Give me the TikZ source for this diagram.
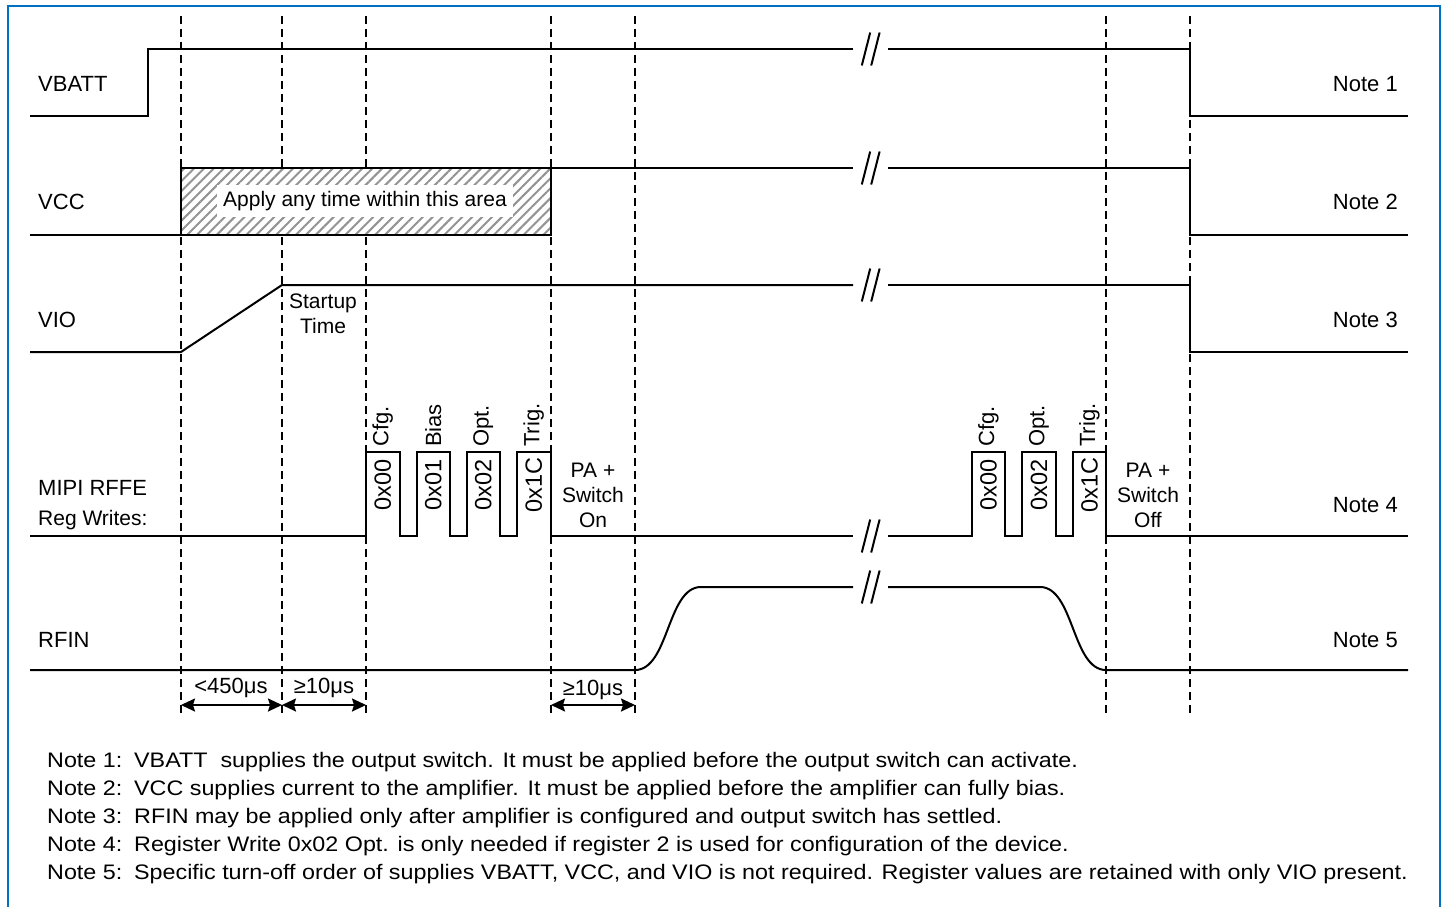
\documentclass[tikz,border=0pt]{standalone}
\usepackage{fontspec}
\setmainfont{Liberation Sans}
\newfontfamily\notefont[FakeStretch=1.11]{Liberation Sans}
\usetikzlibrary{patterns.meta,arrows.meta}
\definecolor{frameblue}{RGB}{0,112,192}
\newcommand\sigbreak[1]{%
  \draw[sig] (861.8,#1+16.5) -- (870.2,#1-16.5);
  \draw[sig] (871.2,#1+16.5) -- (879.6,#1-16.5);}
\begin{document}
\begin{tikzpicture}[x=1pt,y=-1pt,
  sig/.style={line width=2pt, line join=miter},
  guide/.style={line width=2pt, dash pattern=on 8pt off 5pt},
  lbl/.style={font=\fontsize{22}{26}\selectfont, inner sep=0pt},
  small/.style={font=\fontsize{21}{25}\selectfont, inner sep=0pt, align=center},
  reg/.style={font=\fontsize{22}{26}\selectfont, inner sep=0pt, rotate=90},
  note/.style={font=\notefont\fontsize{21}{24}\selectfont, inner sep=0pt, anchor=base west},
  dim/.style={line width=2pt, {Stealth[length=14pt,width=13pt,inset=2pt]}-{Stealth[length=14pt,width=13pt,inset=2pt]}}
]
\useasboundingbox (0,0) rectangle (1446,907);
% frame
\draw[frameblue, line width=2.5pt] (8,910) -- (8,6) -- (1440,6) -- (1440,910);
% guide lines
\foreach \x in {181,282,366,551,635,1106,1190}
  \draw[guide] (\x,16) -- (\x,715);
% VBATT
\draw[sig] (30,116) -- (148,116) -- (148,49) -- (853,49);
\draw[sig] (888,49) -- (1190,49) -- (1190,116) -- (1408,116);
\sigbreak{49}
% VCC hatched area
\fill[white] (181,168) rectangle (551,235);
\fill[pattern={Lines[angle=45,distance=7pt,line width=2pt]}, pattern color=gray!85] (181,168) rectangle (551,235);
\draw[line width=1.5pt] (181,235) -- (551,235) -- (551,168);
\node[small, fill=white, inner sep=6pt] (apply) at (365,201) {Apply any time within this area};
\draw[sig] (30,235) -- (181,235) -- (181,168) -- (853,168);
\draw[sig] (888,168) -- (1190,168) -- (1190,235) -- (1408,235);
\sigbreak{168}
% VIO
\draw[sig] (30,352) -- (181,352) -- (282,285) -- (853,285);
\draw[sig] (888,285) -- (1190,285) -- (1190,352) -- (1408,352);
\sigbreak{285}
\node[small] (startup) at (323,314) {Startup\\Time};
% MIPI
\draw[sig] (30,536) -- (366,536) -- (366,452) -- (399.5,452) -- (399.5,536)
  -- (416.5,536) -- (416.5,452) -- (450,452) -- (450,536)
  -- (466.7,536) -- (466.7,452) -- (500,452) -- (500,536)
  -- (516.7,536) -- (516.7,452) -- (551,452) -- (551,536) -- (853,536);
\draw[sig] (888,536) -- (971.7,536) -- (971.7,452) -- (1005,452) -- (1005,536)
  -- (1021.7,536) -- (1021.7,452) -- (1056,452) -- (1056,536)
  -- (1072.7,536) -- (1072.7,452) -- (1106,452) -- (1106,536) -- (1408,536);
\sigbreak{536}
\foreach \x/\v/\t/\n in {382.7/0x00/Cfg./a, 433.3/0x01/Bias/b, 483.3/0x02/Opt./c, 533.8/0x1C/Trig./d,
  988.4/0x00/Cfg./e, 1038.9/0x02/Opt./f, 1089.4/0x1C/Trig./g}{
  \node[reg, font=\fontsize{23.5}{26}\selectfont] (val\n) at (\x,485) {\v};
  \node[reg, anchor=west] (name\n) at (\x,447) {\t};
}
\node[small] (paon) at (593,495) {PA +\\Switch\\On};
\node[small] (paoff) at (1148,495) {PA +\\Switch\\Off};
% RFIN
\draw[sig] (30,670) -- (635,670) .. controls (669,670) and (667,587) .. (701,587) -- (853,587);
\draw[sig] (888,587) -- (1040,587) .. controls (1074,587) and (1072,670) .. (1106,670) -- (1408,670);
\sigbreak{587}
% left labels
\node[lbl, anchor=west] (lvbatt) at (38,84) {VBATT};
\node[lbl, anchor=west] (lvcc) at (38,202) {VCC};
\node[lbl, anchor=west] (lvio) at (38,320) {VIO};
\node[lbl, anchor=west] (lmipi) at (38,488) {MIPI RFFE};
\node[lbl, anchor=west, font=\fontsize{21}{25}\selectfont] (lreg) at (38,520) {Reg Writes:};
\node[lbl, anchor=west] (lrfin) at (38,640) {RFIN};
% right labels
\node[lbl, anchor=east] (n1) at (1398,84) {Note 1};
\node[lbl, anchor=east] (n2) at (1398,202) {Note 2};
\node[lbl, anchor=east] (n3) at (1398,320) {Note 3};
\node[lbl, anchor=east] (n4) at (1398,505) {Note 4};
\node[lbl, anchor=east] (n5) at (1398,640) {Note 5};
% timing dimensions
\coordinate (t0) at (181,705);
\coordinate (t1) at (282,705);
\coordinate (t2) at (366,705);
\coordinate (t3) at (551,705);
\coordinate (t4) at (635,705);
\draw[dim] (t0) -- (t1);
\draw[dim] (t1) -- (t2);
\draw[dim] (t3) -- (t4);
\node[lbl] (d1) at (231,688) {<450μs};
\node[lbl] (d2) at (324,688) {≥10μs};
\node[lbl] (d3) at (593,690) {≥10μs};
% notes
\foreach \y/\k/\txt in {767/1/{VBATT\ \ supplies the output switch. It must be applied before the output switch can activate.},
  795/2/{VCC supplies current to the amplifier. It must be applied before the amplifier can fully bias.},
  823/3/{RFIN may be applied only after amplifier is configured and output switch has settled.},
  851/4/{Register Write 0x02 Opt. is only needed if register 2 is used for configuration of the device.},
  879/5/{Specific turn-off order of supplies VBATT, VCC, and VIO is not required. Register values are retained with only VIO present.}}{
  \node[note] (nl\k) at (47,\y) {Note \k:};
  \node[note] (nt\k) at (134,\y) {\txt};
}
\end{tikzpicture}
\end{document}
